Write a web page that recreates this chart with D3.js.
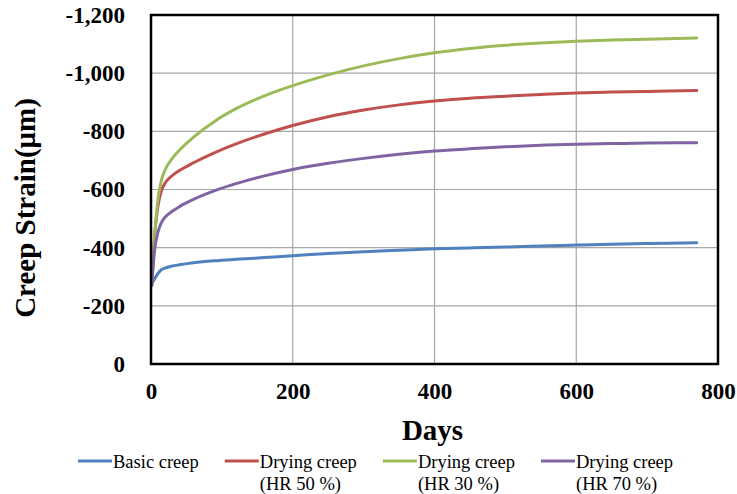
<!DOCTYPE html>
<html>
<head>
<meta charset="utf-8">
<script src="https://cdn.jsdelivr.net/npm/d3@7/dist/d3.min.js"></script>
<style>
  html, body { margin: 0; padding: 0; background: #fff; }
  svg { display: block; }
  svg text { font-family: "Liberation Serif", "Times New Roman", "DejaVu Serif", serif !important; }
</style>
</head>
<body>
<svg id="chart" width="737" height="494"></svg>
<script>
// Elapsed time (days)
const days = [1, 5, 10, 15, 20, 30, 40, 60, 90, 120, 160, 200, 250, 300, 350, 400, 450, 500, 550, 600, 650, 700, 770];

// Creep strain (µm) per curing condition
const basicCreep = [-275, -292, -312, -325, -330, -337, -341, -348, -355, -360, -366, -372, -380, -386, -391, -396, -399, -402, -406, -409, -412, -414, -417];
const dryingHR50 = [-270, -440, -545, -598, -622, -648, -665, -692, -727, -757, -791, -820, -850, -873, -891, -904, -914, -921, -927, -932, -935, -937, -940];
const dryingHR30 = [-270, -430, -570, -635, -668, -707, -735, -780, -835, -878, -922, -957, -994, -1025, -1050, -1070, -1085, -1096, -1104, -1110, -1114, -1117, -1121];
const dryingHR70 = [-270, -390, -455, -488, -505, -525, -541, -566, -596, -620, -647, -669, -690, -707, -721, -732, -740, -747, -752, -756, -758, -759.5, -761];

const seriesNames = ["Basic creep", "Drying creep\n(HR 50 %)", "Drying creep\n(HR 30 %)", "Drying creep\n(HR 70 %)"];
const seriesColors = ["#4F81BD", "#C0504D", "#9BBB59", "#8064A2"];
const seriesValues = [basicCreep, dryingHR50, dryingHR30, dryingHR70];

const xTicks = [0, 200, 400, 600, 800];
const yTicks = [0, -200, -400, -600, -800, -1000, -1200];

const serif = "'Liberation Serif', 'Times New Roman', serif";
const margin = { left: 151, top: 15, right: 19, bottom: 130 };
const W = 737, H = 494;
const plotW = W - margin.left - margin.right;
const plotH = H - margin.top - margin.bottom;

const svg = d3.select("#chart");
const g = svg.append("g").attr("transform", `translate(${margin.left},${margin.top})`);

const x = d3.scaleLinear().domain([0, 800]).range([0, plotW]);
const y = d3.scaleLinear().domain([0, -1200]).range([plotH, 0]);

const locale = d3.formatLocale({ decimal: ".", thousands: ",", grouping: [3], currency: ["", ""], minus: "-" });
const fmt = locale.format(",d");

// Gridlines
g.append("g").selectAll("line").data(yTicks.filter(d => d !== 0 && d !== -1200)).join("line")
  .attr("x1", 0).attr("x2", plotW)
  .attr("y1", d => y(d)).attr("y2", d => y(d))
  .attr("stroke", "#a6a6a6").attr("stroke-width", 1.2);
g.append("g").selectAll("line").data(xTicks.filter(d => d !== 0 && d !== 800)).join("line")
  .attr("y1", 0).attr("y2", plotH)
  .attr("x1", d => x(d)).attr("x2", d => x(d))
  .attr("stroke", "#a6a6a6").attr("stroke-width", 1.2);

// Axes (labels only; frame drawn separately)
const yAxis = g.append("g").call(d3.axisLeft(y).tickValues(yTicks).tickFormat(fmt).tickSize(0).tickPadding(26));
const xAxis = g.append("g").attr("transform", `translate(0,${plotH})`)
  .call(d3.axisBottom(x).tickValues(xTicks).tickFormat(fmt).tickSize(0).tickPadding(19));
[yAxis, xAxis].forEach(a => {
  a.attr("font-family", serif);
  a.select(".domain").remove();
  a.selectAll("text").style("font-family", serif).style("font-size", "23px")
    .style("font-weight", "bold").attr("fill", "#000");
});

// Series lines
const line = d3.line().x((d, i) => x(days[i])).y(d => y(d)).curve(d3.curveMonotoneX);
seriesValues.forEach((vals, k) => {
  g.append("path").datum(vals).attr("d", line)
    .attr("fill", "none").attr("stroke", seriesColors[k]).attr("stroke-width", 3)
    .attr("stroke-linejoin", "round").attr("stroke-linecap", "round");
});

// Plot frame
g.append("rect").attr("x", 0).attr("y", 0).attr("width", plotW).attr("height", plotH)
  .attr("fill", "none").attr("stroke", "#000").attr("stroke-width", 2.5);

// Axis titles
svg.append("text").attr("x", margin.left + plotW / 2 - 2).attr("y", 440)
  .attr("text-anchor", "middle").style("font-family", serif).style("font-size", "29px")
  .style("font-weight", "bold").text("Days");
svg.append("text").attr("transform", "translate(35,208) rotate(-90)")
  .attr("text-anchor", "middle").style("font-family", serif).style("font-size", "29px")
  .style("font-weight", "bold").text("Creep Strain(μm)");

// Legend
const legend = svg.append("g").attr("transform", "translate(78,461)");
let lx = 0;
seriesNames.forEach((name, k) => {
  const item = legend.append("g").attr("transform", `translate(${lx},0)`);
  item.append("line").attr("x1", 0).attr("x2", 34).attr("y1", 0).attr("y2", 0)
    .attr("stroke", seriesColors[k]).attr("stroke-width", 3);
  const t = item.append("text").attr("x", 35).attr("y", 7)
    .style("font-family", serif).style("font-size", "18.5px").attr("fill", "#000");
  name.split("\n").forEach((part, j) => {
    t.append("tspan").attr("x", 35).attr("dy", j === 0 ? 0 : 22).text(part);
  });
  const w = t.node().getBBox().width;
  lx += 35 + w + 26;
});
</script>
</body>
</html>
